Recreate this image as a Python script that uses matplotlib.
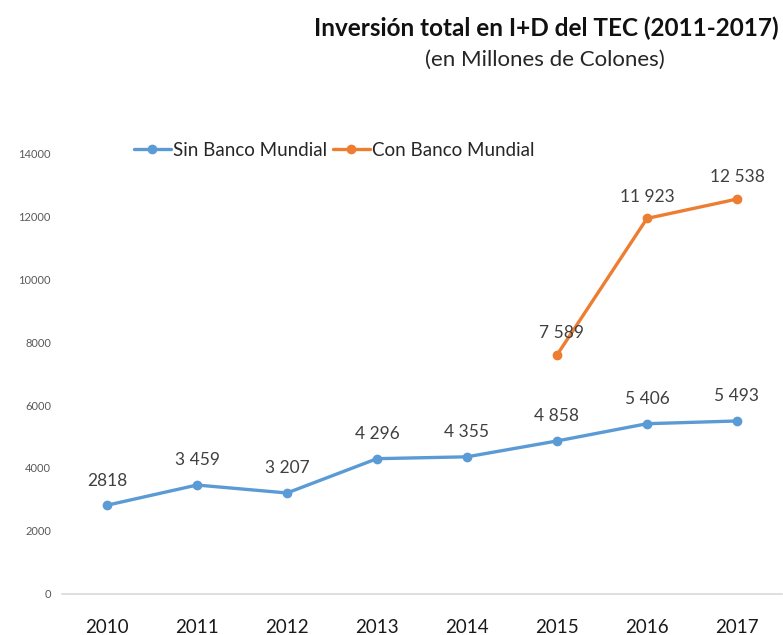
import matplotlib.pyplot as plt

years = [2010, 2011, 2012, 2013, 2014, 2015, 2016, 2017]
sin_bm = [2818, 3459, 3207, 4296, 4355, 4858, 5406, 5493]
sin_labels = ['2818', '3 459', '3 207', '4 296', '4 355', '4 858', '5 406', '5 493']
con_years = [2015, 2016, 2017]
con_bm = [7589, 11923, 12538]
con_labels = ['7 589', '11 923', '12 538']
yticks = [0, 2000, 4000, 6000, 8000, 10000, 12000, 14000]

blue = '#5B9BD5'
orange = '#ED7D31'
plt.rcParams['font.family'] = ['Lato', 'DejaVu Sans']

fig = plt.figure(figsize=(7.83, 6.35), dpi=100)
ax = fig.add_axes([0.0792, 0.0646, 0.9195, 0.6944])

ax.plot(years, sin_bm, color=blue, lw=2.4, marker='o', ms=6, label='Sin Banco Mundial',
        solid_capstyle='round')
ax.plot(con_years, con_bm, color=orange, lw=2.4, marker='o', ms=6, label='Con Banco Mundial',
        solid_capstyle='round')

for x, y, t in zip(years, sin_bm, sin_labels):
    ax.annotate(t, (x, y), xytext=(0, 12), textcoords='offset points', ha='center',
                va='bottom', fontsize=12.5, color='#404040')
for x, y, t in zip(con_years, con_bm, con_labels):
    ax.annotate(t, (x, y), xytext=(3 if x == 2015 else 0, 10), textcoords='offset points',
                ha='center', va='bottom', fontsize=12.5, color='#404040')

ax.set_xlim(2009.5, 2017.5)
ax.set_ylim(0, 14000)
ax.set_xticks(years, labels=[str(y) for y in years])
ax.set_yticks(yticks, labels=[str(v) for v in yticks])
ax.tick_params(axis='x', length=0, pad=18, labelsize=13.5, labelcolor='#1a1a1a')
ax.tick_params(axis='y', length=0, pad=8, labelsize=8, labelcolor='#595959')
for s in ['top', 'right', 'left']:
    ax.spines[s].set_visible(False)
ax.spines['bottom'].set_color('#d9d9d9')
ax.spines['bottom'].set_linewidth(1.2)

fig.legend(loc='center left', bbox_to_anchor=(0.149, 0.763), ncol=2, frameon=False,
           fontsize=13.5, handlelength=2.0, handletextpad=0.1, columnspacing=0.3,
           labelcolor='#262626')

fig.text(0.994, 0.955, 'Inversión total en I+D del TEC (2011-2017)', ha='right', va='center',
         fontsize=17.5, fontweight='bold', color='#111111')
fig.text(0.696, 0.905, '(en Millones de Colones)', ha='center', va='center',
         fontsize=16, color='#262626')

fig.savefig('out.png', dpi=100)
